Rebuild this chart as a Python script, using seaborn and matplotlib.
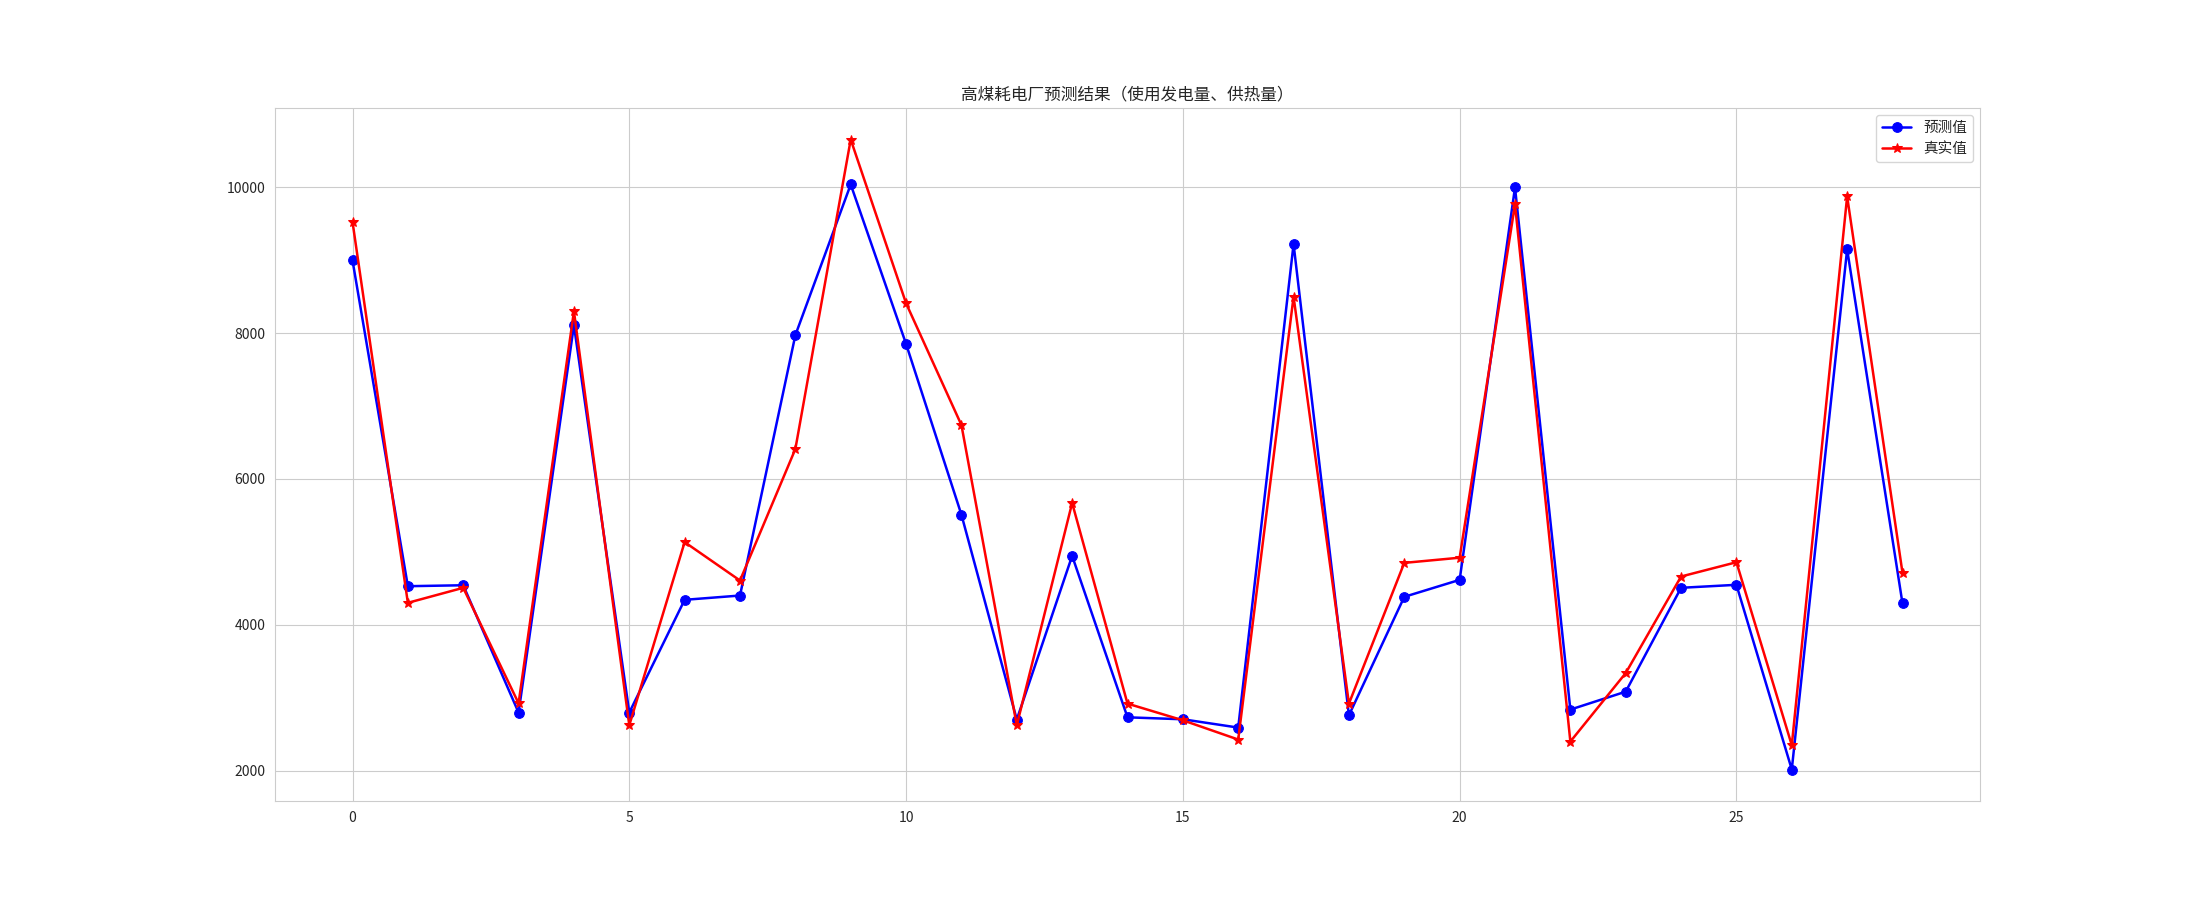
import matplotlib
matplotlib.use("Agg")
import matplotlib.pyplot as plt
import seaborn as sns
import numpy as np

idx = list(range(29))
pred_values = [9000, 4529, 4542, 2795, 8110, 2795, 4342, 4401, 7973, 10041,
               7853, 5510, 2699, 4945, 2730, 2703, 2589, 9223, 2758, 4383,
               4616, 10000, 2836, 3082, 4507, 4548, 2014, 9151, 4292]
true_values = [9529, 4301, 4507, 2922, 8301, 2621, 5134, 4607, 6411, 10658,
               8411, 6740, 2621, 5671, 2918, 2689, 2425, 8502, 2918, 4849,
               4920, 9769, 2397, 3337, 4662, 4858, 2347, 9877, 4712]
title = "高煤耗电厂预测结果（使用发电量、供热量）"
label_pred = "预测值"
label_true = "真实值"

sns.set_style("whitegrid")
plt.rcParams["font.family"] = ["Noto Sans CJK SC", "DejaVu Sans"]
plt.rcParams["axes.unicode_minus"] = False

fig, ax = plt.subplots(figsize=(22, 9), dpi=100)
sns.lineplot(x=idx, y=pred_values, ax=ax, color="blue", marker="o",
             markersize=7, markeredgecolor="blue", linewidth=1.8, label=label_pred)
sns.lineplot(x=idx, y=true_values, ax=ax, color="red", marker="*",
             markersize=7, markeredgecolor="red", linewidth=1.8, label=label_true)
ax.set_title(title, fontsize=12)
ax.tick_params(labelsize=10)
ax.legend(loc="upper right", fontsize=10.5)
fig.subplots_adjust(left=0.125, right=0.9, top=0.88, bottom=0.11)
fig.savefig("out.png", dpi=100)
